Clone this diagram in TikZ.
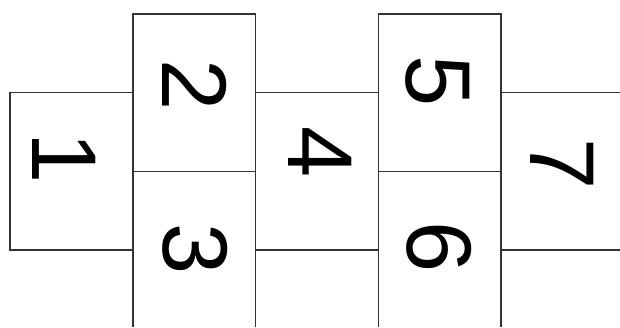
\documentclass[tikz,border=0pt]{standalone}
\usepackage{fontspec}
\setmainfont{Liberation Sans}
\begin{document}
\begin{tikzpicture}[x=1pt,y=-1pt,
  gridline/.style={draw=black!80,line width=1.1pt},
  digit/.style={rotate=-90,inner sep=0pt,font=\fontsize{92}{92}\selectfont,text=black}]
\useasboundingbox (0,0) rectangle (620,327);
% cells
\draw[gridline] (10,92.7) rectangle (133,250);
\draw[gridline] (133,14) rectangle (255.7,171.7);
\draw[gridline] (133,171.7) -- (133,327) (255.7,171.7) -- (255.7,327);
\draw[gridline] (255.7,92.7) -- (378.3,92.7) (255.7,250) -- (378.3,250);
\draw[gridline] (378.3,14) rectangle (501,171.7);
\draw[gridline] (378.3,171.7) -- (378.3,327) (501,171.7) -- (501,327);
\draw[gridline] (501,92.7) -- (620,92.7) (501,250) -- (620,250);
% labels
\node[digit] (d1) at (64,158) {1};
\node[digit] (d2) at (195,85) {2};
\node[digit] (d3) at (195,249) {3};
\node[digit] (d4) at (320,152) {4};
\node[digit] (d5) at (438,81) {5};
\node[digit] (d6) at (439,247) {6};
\node[digit] (d7) at (562,164) {7};
\end{tikzpicture}
\end{document}
